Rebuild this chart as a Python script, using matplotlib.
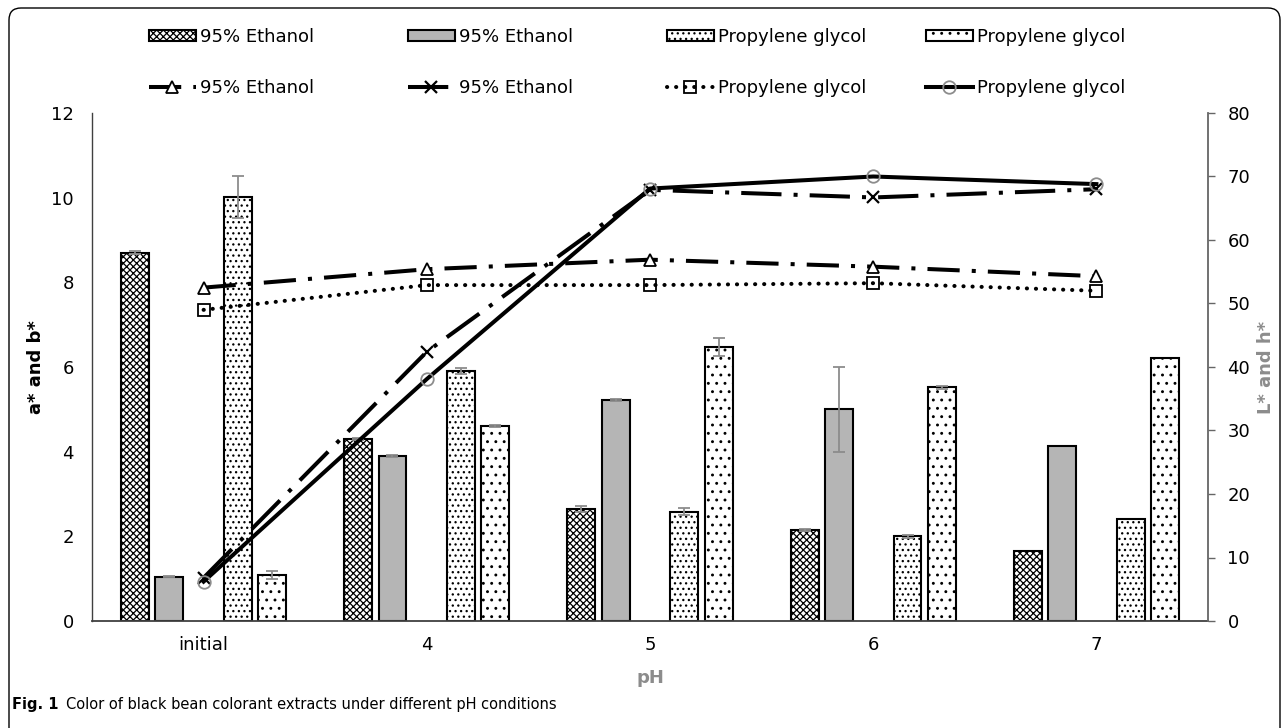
import matplotlib
matplotlib.use('Agg')
import matplotlib.pyplot as plt
import numpy as np
from matplotlib.patches import FancyBboxPatch
from matplotlib.transforms import IdentityTransform

# ---------------- data ----------------
categories = ['initial', '4', '5', '6', '7']

eth_a = [8.70, 4.30, 2.65, 2.15, 1.65]
eth_a_err = [0.03, 0.03, 0.07, 0.02, 0.0]
eth_b = [1.05, 3.90, 5.22, 5.00, 4.13]
eth_b_err = [0.02, 0.03, 0.03, 1.00, 0.0]
pg_a = [10.02, 5.91, 2.58, 2.00, 2.42]
pg_a_err = [0.50, 0.07, 0.08, 0.03, 0.0]
pg_b = [1.09, 4.60, 6.47, 5.52, 6.22]
pg_b_err = [0.10, 0.02, 0.22, 0.03, 0.0]

eth_L = [52.5, 55.4, 56.9, 55.8, 54.3]
eth_h = [6.8, 42.4, 67.9, 66.7, 68.0]
pg_L = [49.0, 52.9, 52.9, 53.2, 52.0]
pg_h = [6.2, 38.1, 68.1, 70.0, 68.8]

legend_labels = ['95% Ethanol', '95% Ethanol', 'Propylene glycol', 'Propylene glycol']

# ---------------- style ----------------
plt.rcParams['font.family'] = ['DejaVu Sans']
plt.rcParams['hatch.color'] = 'black'
plt.rcParams['hatch.linewidth'] = 0.9

W, H = 1285, 728
fig = plt.figure(figsize=(W / 100, H / 100), dpi=100)
ax = fig.add_axes([92 / W, 1 - 621 / H, (1208 - 92) / W, (621 - 113) / H])
ax2 = ax.twinx()

x = np.arange(len(categories))
slot = 0.1537
bw = 0.125
FS = 13

bar_specs = [
    (eth_a, eth_a_err, -2, dict(color='white', hatch='xxxxx')),
    (eth_b, eth_b_err, -1, dict(color='#b5b5b5', hatch=None)),
    (pg_a, pg_a_err, 1, dict(color='white', hatch='...')),
    (pg_b, pg_b_err, 2, dict(color='white', hatch='..')),
]
bar_handles = []
for vals, errs, k, st in bar_specs:
    pos = x + k * slot
    b = ax.bar(pos, vals, bw, color=st['color'], hatch=st['hatch'],
               edgecolor='black', linewidth=1.5, zorder=2)
    bar_handles.append(b)
    v = np.array(vals)
    e = np.array(errs)
    m = e > 0
    ax.errorbar(pos[m], v[m], yerr=e[m], fmt='none', ecolor='#8c8c8c',
                elinewidth=1.3, capsize=4, capthick=1.3, zorder=3)

ax.set_xlim(-0.5, len(categories) - 0.5)
ax.set_ylim(0, 12)
ax.set_yticks(np.arange(0, 13, 2))
ax.set_xticks(x)
ax.set_xticklabels(categories)
ax.tick_params(axis='y', length=0, pad=13, labelsize=FS)
ax.tick_params(axis='x', length=0, pad=11, labelsize=FS)
for s in ['top', 'right']:
    ax.spines[s].set_visible(False)
ax.spines['left'].set_color('#404040')
ax.spines['left'].set_linewidth(1.0)
ax.spines['bottom'].set_color('#404040')
ax.spines['bottom'].set_linewidth(1.3)

# lines (right axis)
lw = 2.9
l1, = ax2.plot(x, eth_L, color='black', lw=lw, linestyle=(0, (8, 3, 1, 3)),
               marker='^', ms=9, mfc='white', mec='black', mew=1.3)
l2, = ax2.plot(x, eth_h, color='black', lw=lw, linestyle=(0, (10, 3, 1, 3)),
               marker='x', ms=9, mec='black', mew=1.6)
l3, = ax2.plot(x, pg_L, color='black', lw=lw, linestyle=(0, (0.05, 2.2)),
               dash_capstyle='round', marker='s', ms=9, mfc='none', mec='black', mew=1.3)
l4, = ax2.plot(x, pg_h, color='black', lw=lw, linestyle='-',
               marker='o', ms=9, mfc='none', mec='#8c8c8c', mew=1.3)
line_handles = [l1, l2, l3, l4]

ax2.set_ylim(0, 80)
ax2.set_yticks(np.arange(0, 81, 10))
ax2.tick_params(axis='y', length=5, width=1.0, color='#666666', direction='out',
                pad=9, labelsize=FS)
for s in ['top', 'left', 'bottom']:
    ax2.spines[s].set_visible(False)
ax2.spines['right'].set_color('#666666')
ax2.spines['right'].set_linewidth(1.3)

# axis titles
fig.text(36 / W, 1 - 367 / H, 'a* and b*', rotation=90, ha='center', va='center',
         fontsize=FS, fontweight='bold', color='black')
fig.text(1266 / W, 1 - 367 / H, 'L* and h*', rotation=90, ha='center', va='center',
         fontsize=FS, fontweight='bold', color='#8c8c8c')
fig.text(650 / W, 1 - 678 / H, 'pH', ha='center', va='center',
         fontsize=FS, fontweight='bold', color='#8c8c8c')

# legends: one entry per slot, uniform column pitch
col_x = [149, 408, 667, 926]
for i in range(4):
    fig.legend(handles=[bar_handles[i]], labels=[legend_labels[i]], loc='center left',
               bbox_to_anchor=(col_x[i] / W, 1 - 37 / H), frameon=False, fontsize=FS,
               borderaxespad=0, borderpad=0, handlelength=2.6, handleheight=0.6,
               handletextpad=0.25)
    fig.legend(handles=[line_handles[i]], labels=[legend_labels[i]], loc='center left',
               bbox_to_anchor=(col_x[i] / W, 1 - 88 / H), frameon=False, fontsize=FS,
               borderaxespad=0, borderpad=0, handlelength=2.6, numpoints=1,
               handletextpad=0.25)

# caption
r = fig.canvas.get_renderer()
t1 = fig.text(12 / W, 1 - 704 / H, 'Fig. 1', fontsize=10.5, fontweight='bold',
              ha='left', va='center')
bb = t1.get_window_extent(renderer=r)
fig.text((bb.x1 + 8) / W, 1 - 704 / H,
         'Color of black bean colorant extracts under different pH conditions',
         fontsize=10.5, ha='left', va='center')

# rounded frame
frame = FancyBboxPatch((9, -30), 1271, 30 + (H - 8), boxstyle='round,pad=0,rounding_size=12',
                       transform=IdentityTransform(), fill=False, ec='black', lw=1.0)
fig.patches.append(frame)

fig.savefig('out.png', dpi=100)
